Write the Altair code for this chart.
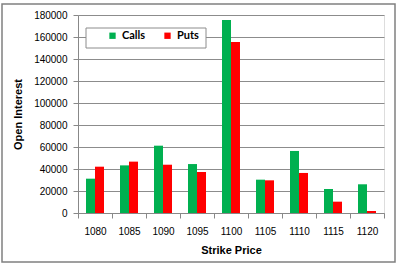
import altair as alt
import pandas as pd

strikes = ["1080", "1085", "1090", "1095", "1100", "1105", "1110", "1115", "1120"]
calls = [31200, 43300, 61200, 44500, 175500, 30300, 56400, 21800, 26100]
puts = [42100, 46700, 43900, 37300, 155500, 29700, 36400, 10300, 1800]
series = ["Calls", "Puts"]
colors = ["#00b050", "#ff0000"]

rows = []
for s, c, p in zip(strikes, calls, puts):
    rows.append({"Strike": s, "Type": "Calls", "OI": c})
    rows.append({"Strike": s, "Type": "Puts", "OI": p})
df = pd.DataFrame(rows)

FONT = "Lato"

bars = alt.Chart(df).mark_bar().encode(
    x=alt.X("Strike:N", sort=strikes,
            scale=alt.Scale(paddingInner=0, paddingOuter=0),
            axis=alt.Axis(title="Strike Price", labelAngle=0, tickBand="extent",
                          domainColor="#888888", tickColor="#888888", tickSize=5,
                          labelPadding=8, titlePadding=8, grid=False)),
    xOffset=alt.XOffset("Type:N", sort=series,
                        scale=alt.Scale(paddingInner=0, paddingOuter=0.89)),
    y=alt.Y("OI:Q", scale=alt.Scale(domain=[0, 180000]),
            axis=alt.Axis(title="Open Interest", values=list(range(0, 180001, 20000)),
                          format="d", gridColor="#8c8c8c", domainColor="#888888",
                          tickColor="#888888", tickSize=5, labelPadding=6,
                          titlePadding=10)),
    color=alt.Color("Type:N", sort=series,
                    scale=alt.Scale(domain=series, range=colors),
                    legend=alt.Legend(title=None, orient="none", legendX=29, legendY=15,
                                      direction="horizontal", padding=0,
                                      symbolType="square", symbolSize=40,
                                      symbolStrokeWidth=0, columnPadding=16,
                                      labelFont=FONT,
                                      labelFontSize=11, labelFontWeight="bold",
                                      labelColor="#000000", labelOffset=4)),
)

border = alt.Chart(pd.DataFrame({"a": [0]})).mark_rect(
    fill=None, stroke="#808080", strokeWidth=1.5
).encode(x=alt.value(-76), x2=alt.value(317), y=alt.value(-11), y2=alt.value(247))

legend_box = alt.Chart(pd.DataFrame({"a": [0]})).mark_rect(
    fill="white", stroke="#8c8c8c", strokeWidth=1
).encode(x=alt.value(8), x2=alt.value(128), y=alt.value(13), y2=alt.value(33))

chart = alt.layer(border, legend_box, bars).properties(
    width=306, height=198,
    autosize=alt.AutoSizeParams(type="none"),
    padding={"left": 78, "top": 15, "right": 16, "bottom": 53},
).configure_view(
    fill="#d9d9d9", stroke=None
).configure_axis(
    labelFont=FONT, labelFontSize=11, labelColor="#333333",
    titleFont=FONT, titleFontSize=12, titleFontWeight="bold", titleColor="#000000",
).configure(background="white")

chart.save("out.html", embed_options={"renderer": "svg", "actions": False})
